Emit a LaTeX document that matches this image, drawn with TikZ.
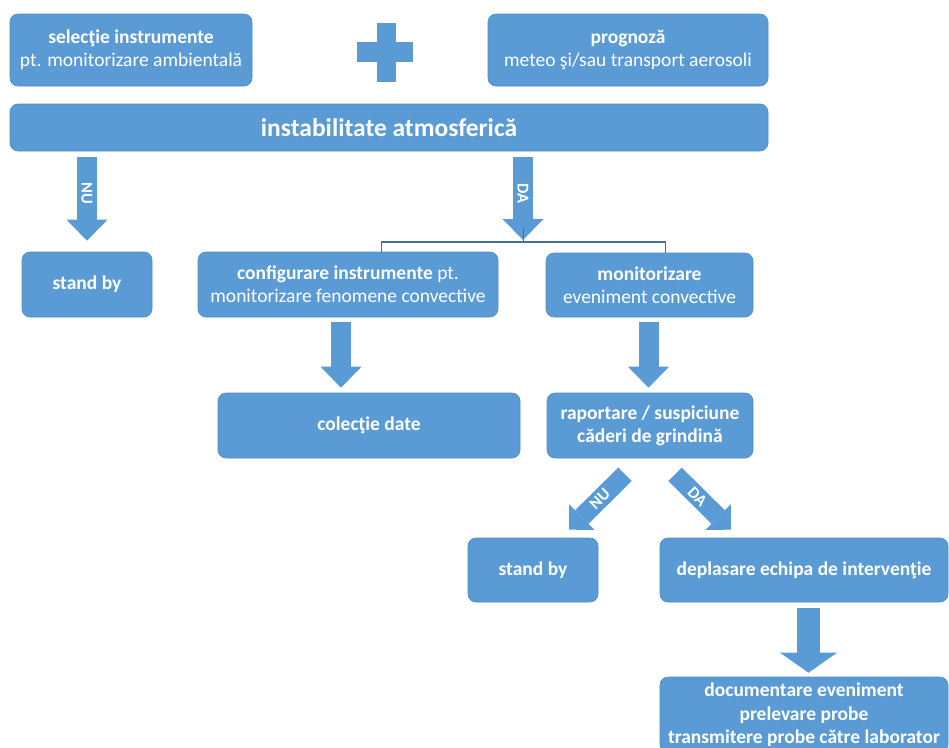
\documentclass[tikz,border=0pt]{standalone}
\usepackage{fontspec}
\setmainfont{Carlito}
\usetikzlibrary{arrows.meta,calc}
\definecolor{boxblue}{HTML}{5B9BD5}
\definecolor{edgeblue}{HTML}{4F8BC6}
\definecolor{linkblue}{HTML}{41719C}
\tikzset{
  box/.style={rectangle, rounded corners=8pt, fill=boxblue, draw=edgeblue, line width=0.6pt,
    text=white, align=center, inner sep=0pt, font=\fontsize{19.5}{23}\selectfont},
  fatv/.style={draw=boxblue, line width=20pt, -{Triangle[width=41pt,length=21pt,line width=0pt]}},
  fatd/.style={draw=boxblue, line width=19pt, -{Triangle[width=36pt,length=18pt,line width=0pt]}},
  fatb/.style={draw=boxblue, line width=23pt, -{Triangle[width=57pt,length=20pt,line width=0pt]}},
  lbl/.style={text=white, font=\fontsize{16.5}{16.5}\selectfont\bfseries, inner sep=0pt},
  bracketline/.style={draw=linkblue, line width=1.5pt}
}
\begin{document}
\begin{tikzpicture}[x=1pt,y=-1pt]
\useasboundingbox (0,0) rectangle (949,747);
\clip (0,0) rectangle (949,747);
\fill[white] (0,0) rectangle (949,747);

% top row
\node[box, minimum width=242pt, minimum height=72pt] (sel) at (131,50)
  {\textbf{selecţie instrumente}\\pt. monitorizare ambientală};
\fill[boxblue] (357,42) rectangle (413,62);
\fill[boxblue] (377,23) rectangle (396,82);
\node[box, minimum width=280pt, minimum height=72pt] (prog) at (628,50)
  {\textbf{prognoză}\\meteo şi/sau transport aerosoli};

\node[box, minimum width=758pt, minimum height=47pt, font=\fontsize{25.5}{28}\selectfont\bfseries] (inst) at (389,127.5)
  {instabilitate atmosferică};

% second level
\node[box, minimum width=130pt, minimum height=65pt] (sb1) at (87,284.5) {\textbf{stand by}};
\node[box, minimum width=300pt, minimum height=65pt] (conf) at (348,284.5)
  {\textbf{configurare instrumente} pt.\\monitorizare fenomene convective};
\node[box, minimum width=207pt, minimum height=64pt] (mon) at (649.5,285)
  {\textbf{monitorizare}\\eveniment convective};

% third level
\node[box, minimum width=302pt, minimum height=65pt] (col) at (369,425.5) {\textbf{colecţie date}};
\node[box, minimum width=206pt, minimum height=65pt, font=\fontsize{19.5}{23}\selectfont\bfseries] (rap) at (650,425.5)
  {raportare / suspiciune\\căderi de grindină};

% fourth level
\node[box, minimum width=130pt, minimum height=64pt] (sb2) at (533,570) {\textbf{stand by}};
\node[box, minimum width=288pt, minimum height=64pt] (dep) at (804,570) {\textbf{deplasare echipa de intervenţie}};
\node[box, minimum width=288pt, minimum height=76pt, font=\fontsize{19.5}{23.5}\selectfont\bfseries] (doc) at (804,715)
  {documentare eveniment\\prelevare probe\\transmitere probe către laborator};

% connectors
\coordinate (br) at (523,242);
\draw[fatv, shorten <=6pt, shorten >=11pt] (sb1.north |- inst.south) -- (sb1.north)
  node[lbl, pos=0.42, rotate=-90] {NU};
\draw[fatv, shorten <=6pt, shorten >=2pt] (inst.south -| br) -- (br)
  node[lbl, pos=0.46, rotate=-90] {DA};
\draw[bracketline] ([xshift=184pt]conf.north west) |- (br) -| ([xshift=120pt]mon.north west);
\draw[draw=linkblue, line width=0.8pt] (br) -- ++(0,-14);

\draw[fatv, shorten <=5pt, shorten >=5pt] ([xshift=-7pt]conf.south) -- ([xshift=-7pt]conf.south |- col.north);
\draw[fatv, shorten <=5pt, shorten >=5pt] ([xshift=-1pt]mon.south) -- ([xshift=-1pt]mon.south |- rap.north);

\coordinate (nuS) at ($(rap.south)+(-25,16)$);
\coordinate (nuE) at ($(sb2.north)+(36,-8)$);
\coordinate (daS) at ($(rap.south)+(25,16)$);
\coordinate (daE) at ($(dep.north)+(-73,-8)$);
\draw[fatd] (nuS) -- (nuE) node[lbl, pos=0.45, rotate=45] {NU};
\draw[fatd] (daS) -- (daE) node[lbl, pos=0.4, rotate=-45] {DA};

\draw[fatb, shorten <=6pt, shorten >=4pt] ([xshift=4.5pt]dep.south) -- ([xshift=4.5pt]dep.south |- doc.north);
\end{tikzpicture}
\end{document}
